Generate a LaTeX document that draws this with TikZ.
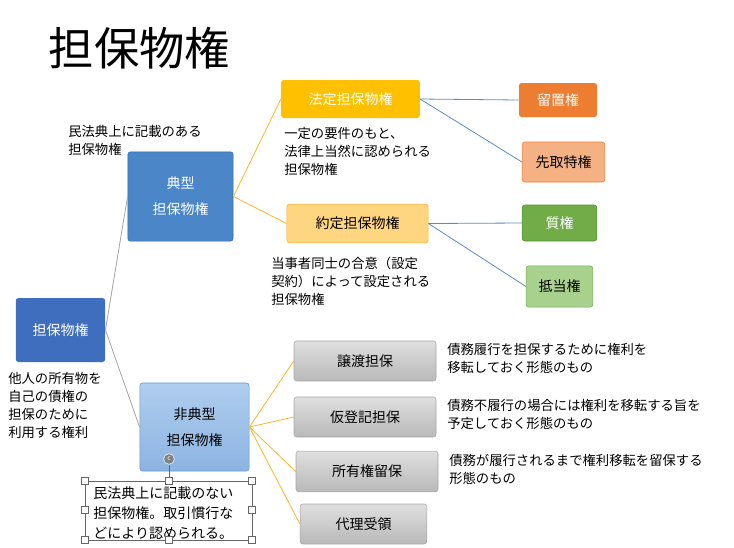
\documentclass[tikz,border=0pt]{standalone}
\usepackage{fontspec}
\setmainfont{Noto Sans CJK JP}
\definecolor{lnblue}{RGB}{90,140,200}
\definecolor{lnorange}{RGB}{255,180,40}
\begin{document}
\begin{tikzpicture}[x=0.75pt,y=-0.75pt,
 box/.style={rounded corners=2pt,align=center,font=\fontsize{10.5}{19.5}\selectfont,inner sep=0pt},
 note/.style={anchor=north west,align=left,font=\fontsize{10}{13.5}\selectfont,inner sep=0pt},
 gray/.style={box,draw=gray!70,top color=gray!25,bottom color=gray!55,text=black},
 ln/.style={line width=0.6pt}]
\useasboundingbox (0,0) rectangle (734,547);
\node[anchor=west,font=\fontsize{34}{34}\selectfont] (title) at (44,48) {担保物権};
\node[box,fill={rgb,255:red,64;green,110;blue,190},text=white,minimum width=67pt,minimum height=48pt] (root) at (60.5,330) {担保物権};
\node[box,draw={rgb,255:red,50;green,100;blue,170},fill={rgb,255:red,74;green,134;blue,200},text=white,minimum width=79pt,minimum height=67pt] (ten) at (180.5,196.5) {典型\\担保物権};
\node[box,draw={rgb,255:red,100;green,150;blue,210},top color={rgb,255:red,175;green,205;blue,238},bottom color={rgb,255:red,140;green,180;blue,225},minimum width=82pt,minimum height=66pt] (hi) at (194.5,427) {非典型\\担保物権};
\node[box,fill={rgb,255:red,255;green,192;blue,0},text=white,minimum width=104pt,minimum height=28.5pt] (hotei) at (350.5,99) {法定担保物権};
\node[box,draw={rgb,255:red,245;green,175;blue,50},fill={rgb,255:red,255;green,214;blue,128},minimum width=106pt,minimum height=29pt] (yaku) at (357.5,223.5) {約定担保物権};
\node[box,fill={rgb,255:red,237;green,125;blue,49},text=white,minimum width=58.5pt,minimum height=25.5pt] (ryu) at (558,100) {留置権};
\node[box,draw={rgb,255:red,237;green,125;blue,49},fill={rgb,255:red,244;green,177;blue,131},minimum width=62pt,minimum height=30pt] (saki) at (563.5,162) {先取特権};
\node[box,draw={rgb,255:red,80;green,140;blue,50},fill={rgb,255:red,112;green,173;blue,71},text=white,minimum width=56pt,minimum height=27pt] (shichi) at (559.5,223) {質権};
\node[box,draw={rgb,255:red,112;green,173;blue,71},fill={rgb,255:red,169;green,209;blue,142},minimum width=50pt,minimum height=31pt] (tei) at (559.5,286.5) {抵当権};
\node[gray,minimum width=106.5pt,minimum height=30pt] (g1) at (365,361) {譲渡担保};
\node[gray,minimum width=106.5pt,minimum height=30pt] (g2) at (365,417) {仮登記担保};
\node[gray,minimum width=106.5pt,minimum height=30.5pt] (g3) at (367,471.5) {所有権留保};
\node[gray,minimum width=95pt,minimum height=30pt] (g4) at (363.5,524) {代理受領};
\draw[ln,gray] (root.east) -- (ten.west);
\draw[ln,gray] (root.east) -- (hi.west);
\draw[ln,lnorange] (ten.east) -- (hotei.west);
\draw[ln,lnorange] (ten.east) -- (yaku.west);
\draw[ln,lnblue] (hotei.east) -- (ryu.west);
\draw[ln,lnblue] (hotei.east) -- (saki.west);
\draw[ln,lnblue] (yaku.east) -- (shichi.west);
\draw[ln,lnblue] (yaku.east) -- (tei.west);
\foreach \g in {g1,g2,g3,g4} \draw[ln,lnorange] (hi.east) -- (\g.west);
\node[note] (n1) at (68,125) {民法典上に記載のある\\担保物権};
\node[note] (n2) at (284,127) {一定の要件のもと、\\法律上当然に認められる\\担保物権};
\node[note] (n3) at (271,257) {当事者同士の合意（設定\\契約）によって設定される\\担保物権};
\node[note] (n4) at (8,372) {他人の所有物を\\自己の債権の\\担保のために\\利用する権利};
\node[note] (n5) at (447,343) {債務履行を担保するために権利を\\移転しておく形態のもの};
\node[note] (n6) at (447,399) {債務不履行の場合には権利を移転する旨を\\予定しておく形態のもの};
\node[note] (n7) at (449,454) {債務が履行されるまで権利移転を留保する\\形態のもの};
\node[note,font=\fontsize{10.5}{15}\selectfont] (n8) at (93,486) {民法典上に記載のない\\担保物権。取引慣行な\\どにより認められる。};
\draw[gray!80!black,line width=0.5pt] (85,481) rectangle (252,540);
\coordinate (hd) at (169,481);
\node[circle,fill=gray,draw=white,inner sep=0pt,minimum size=8pt,font=\fontsize{5}{5}\selectfont,text=white] (rot) at (169,459) {c};
\draw[gray!80!black] (rot) -- (hd);
\foreach \p in {(85,481),(169,481),(252,481),(85,510),(252,510),(85,540),(169,540),(252,540)}
 \node[draw=gray!80!black,fill=white,minimum size=5pt,inner sep=0pt] at \p {};
\end{tikzpicture}
\end{document}
